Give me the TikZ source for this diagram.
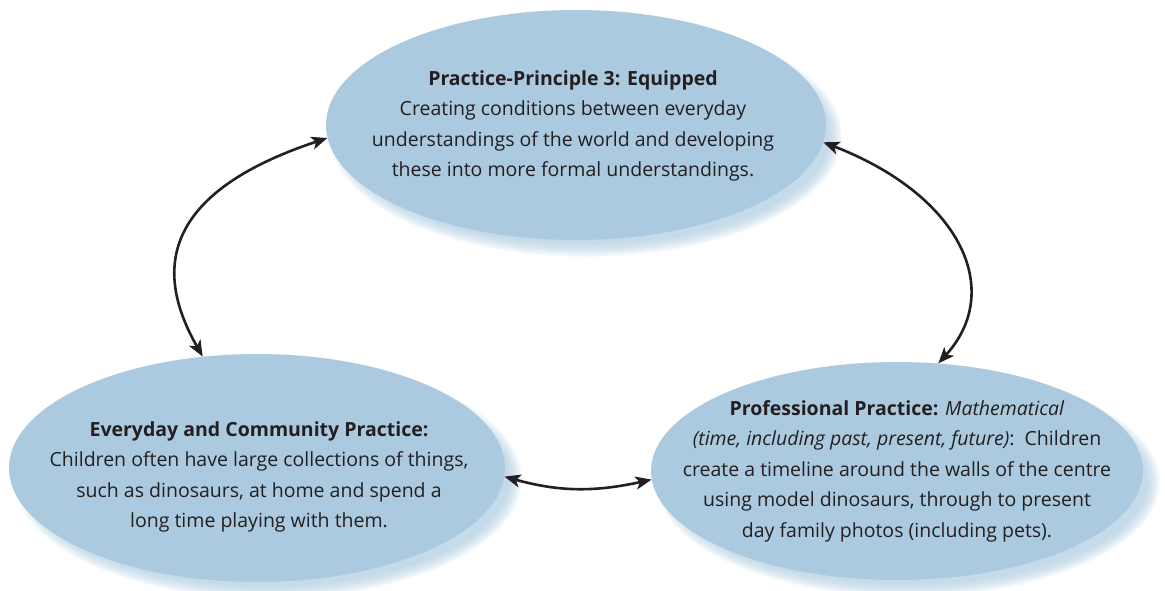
\documentclass[tikz,border=0pt]{standalone}
\usepackage{fontspec}
\setmainfont{Open Sans}
\usetikzlibrary{arrows.meta,shapes.geometric}
\definecolor{bubblefill}{HTML}{ABCADF}
\definecolor{inktext}{HTML}{231F20}
\tikzset{
  bubble/.style={ellipse, fill=bubblefill, inner sep=0pt},
  bubbletext/.style={align=center, text=inktext, font=\fontsize{19.5}{30.5}\selectfont},
  link/.style={line width=2.6pt, draw=inktext, {Stealth[length=16pt,width=13pt,inset=4pt]}-{Stealth[length=16pt,width=13pt,inset=4pt]}},
}
\newcommand{\softshadow}[4]{%
  \foreach \k in {0,...,13}{
    \fill[bubblefill, opacity=0.08] (#1,#2) ellipse [x radius={#3pt+6pt-\k pt}, y radius={#4pt+6pt-\k pt}];
  }}
\begin{document}
\begin{tikzpicture}[x=1pt,y=-1pt]
\useasboundingbox (0,0) rectangle (1165,590);
% shadows
\softshadow{586}{136}{250}{115}
\softshadow{268}{479}{248}{114}
\softshadow{908}{482}{246}{109}
% bubbles
\node[bubble, minimum width=500pt, minimum height=230pt] (top) at (576,125) {};
\node[bubble, minimum width=496pt, minimum height=228pt] (bl) at (257,468) {};
\node[bubble, minimum width=492pt, minimum height=218pt] (br) at (897,471) {};
% texts
\node[bubbletext] (ttop) at (573,126) {\textbf{Practice-Principle 3: Equipped}\\Creating conditions between everyday\\understandings of the world and developing\\these into more formal understandings.};
\node[bubbletext] (tbl) at (259,477) {\textbf{Everyday and Community Practice:}\\Children often have large collections of things,\\such as dinosaurs, at home and spend a\\long time playing with them.};
\node[bubbletext] (tbr) at (897,471) {\textbf{Professional Practice:} \textit{Mathematical}\\\textit{(time, including past, present, future)}:\ \ Children\\create a timeline around the walls of the centre\\using model dinosaurs, through to present\\day family photos (including pets).};
% connectors
\draw[link] (bl.116) .. controls (165,290) and (140,200) .. (top.183);
\draw[link] (top.-4) .. controls (960,195) and (1005,290) .. (br.69);
\draw[link] (bl.-2) .. controls (560,492) and (595,492) .. (br.182);
\end{tikzpicture}
\end{document}
